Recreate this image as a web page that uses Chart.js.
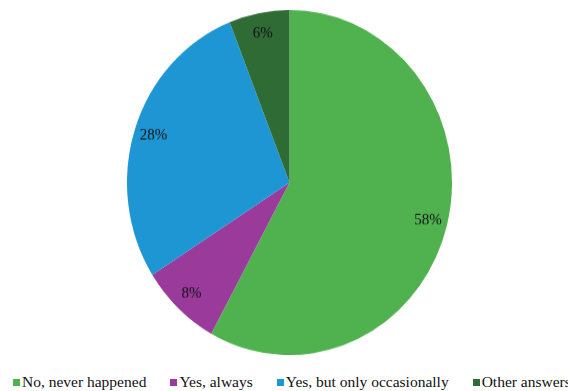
<!DOCTYPE html>
<html lang="en">
<head>
  <meta charset="UTF-8">
  <title>Pie chart</title>
  <script src="https://cdn.jsdelivr.net/npm/chart.js"></script>
  <style>
    html, body {
      margin: 0;
      padding: 0;
      background: #fff;
      width: 568px;
      height: 391px;
      overflow: hidden;
      position: relative;
    }
    #pieChart {
      position: absolute;
      left: 127px;
      top: 10px;
    }
    #legend {
      position: absolute;
      left: 0;
      top: 373px;
      width: 568px;
      height: 18px;
      overflow: hidden;
      white-space: nowrap;
      padding-left: 13px;
      box-sizing: border-box;
      font-family: "Liberation Serif", "Times New Roman", Times, "DejaVu Serif", serif;
      font-size: 15.5px;
      color: #111;
    }
    .legend-item {
      display: inline-block;
      margin-right: 24px;
    }
    .legend-box {
      display: inline-block;
      width: 7px;
      height: 7px;
      margin-right: 2px;
      vertical-align: 1px;
    }
  </style>
</head>
<body>
  <canvas id="pieChart" width="325" height="325" style="width:325px;height:345px;"></canvas>
  <div id="legend"></div>

  <script>
    const labels = ['No, never happened', 'Yes, always', 'Yes, but only occasionally', 'Other answers'];
    const values = [58, 8, 28, 6];
    const colors = ['#50b24f', '#9a3b9b', '#1e96d3', '#2f6b35'];

    // draw the percentage inside each slice
    const sliceLabels = {
      id: 'sliceLabels',
      afterDatasetsDraw(chart) {
        const ctx = chart.ctx;
        const meta = chart.getDatasetMeta(0);
        ctx.save();
        ctx.font = '15px "Liberation Serif", "Times New Roman", Times, "DejaVu Serif", serif';
        ctx.fillStyle = '#111';
        ctx.textAlign = 'center';
        ctx.textBaseline = 'middle';
        meta.data.forEach((arc, i) => {
          const p = arc.getProps(['x', 'y', 'startAngle', 'endAngle', 'outerRadius'], true);
          const mid = (p.startAngle + p.endAngle) / 2;
          const r = p.outerRadius * 0.88;
          ctx.fillText(values[i] + '%', p.x + Math.cos(mid) * r, p.y + Math.sin(mid) * r);
        });
        ctx.restore();
      }
    };

    new Chart(document.getElementById('pieChart'), {
      type: 'pie',
      data: {
        labels: labels,
        datasets: [{
          data: values,
          backgroundColor: colors,
          borderWidth: 0,
          hoverOffset: 0
        }]
      },
      options: {
        responsive: false,
        devicePixelRatio: 1,
        animation: false,
        layout: { padding: 0 },
        plugins: {
          legend: { display: false },
          tooltip: { enabled: false }
        }
      },
      plugins: [sliceLabels]
    });

    // html legend below the pie
    const legendEl = document.getElementById('legend');
    labels.forEach((name, i) => {
      const item = document.createElement('span');
      item.className = 'legend-item';
      const box = document.createElement('span');
      box.className = 'legend-box';
      box.style.background = colors[i];
      item.appendChild(box);
      item.appendChild(document.createTextNode(name));
      legendEl.appendChild(item);
    });
  </script>
</body>
</html>
